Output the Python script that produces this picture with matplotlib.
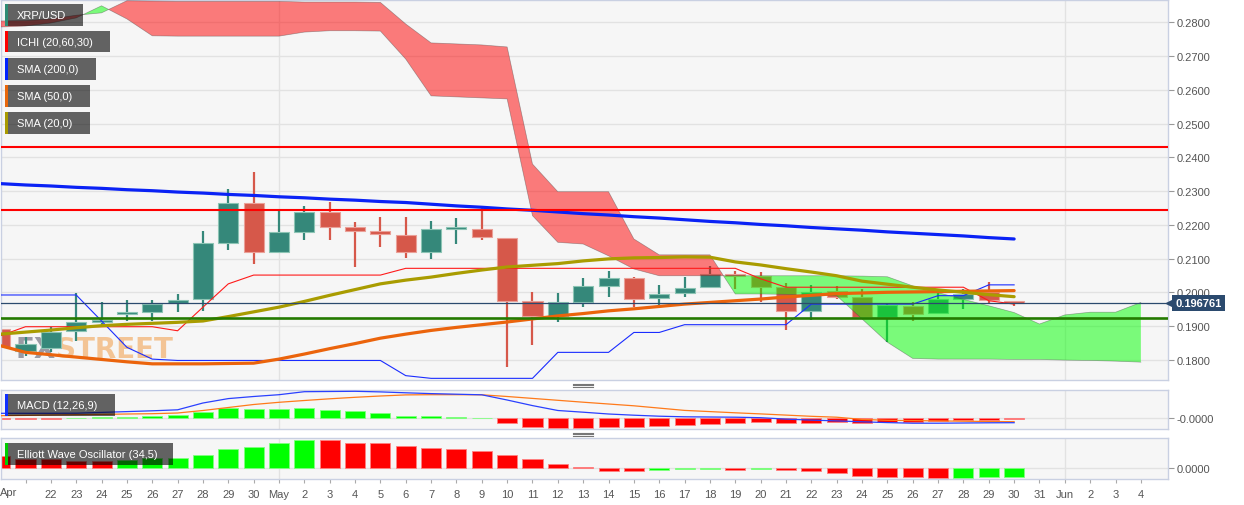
import numpy as np
import matplotlib
matplotlib.use("Agg")
import matplotlib.pyplot as plt
from matplotlib.patches import Rectangle
from matplotlib.lines import Line2D
from matplotlib import font_manager
from matplotlib.transforms import blended_transform_factory

plt.rcParams['font.family'] = ['Liberation Sans', 'DejaVu Sans']

# ---- data -------------------------------------------------------------
# day index: -1 = Apr 20, 0 = Apr 21, 10 = May 1, 39 = May 30, 44 = Jun 4
days = np.arange(-1, 40)
cloud_days = np.arange(-1, 45)

x_labels = ['22', '23', '24', '25', '26', '27', '28', '29', '30', 'May',
            '2', '3', '4', '5', '6', '7', '8', '9', '10', '11', '12', '13',
            '14', '15', '16', '17', '18', '19', '20', '21', '22', '23', '24',
            '25', '26', '27', '28', '29', '30', '31', 'Jun', '2', '3', '4']

opens = np.array([0.1891, 0.1827, 0.1835, 0.1884, 0.1912, 0.1936, 0.1943, 0.1967,
                  0.1980, 0.2146, 0.2265, 0.2119, 0.2180, 0.2237, 0.2194, 0.2181,
                  0.2170, 0.2120, 0.2187, 0.2188, 0.2161, 0.1973, 0.1931, 0.1972,
                  0.2020, 0.2041, 0.1982, 0.1997, 0.2015, 0.2052, 0.2049, 0.2015,
                  0.1945, 0.2003, 0.1987, 0.1928, 0.1960, 0.1938, 0.1980, 0.2000,
                  0.1975])
highs = np.array([0.1946, 0.1867, 0.1896, 0.1997, 0.1970, 0.1977, 0.1977, 0.1995,
                  0.2183, 0.2306, 0.2356, 0.2242, 0.2257, 0.2268, 0.2207, 0.2224,
                  0.2224, 0.2212, 0.2219, 0.2249, 0.2161, 0.2000, 0.1998, 0.2042,
                  0.2062, 0.2046, 0.2022, 0.2046, 0.2077, 0.2062, 0.2059, 0.2027,
                  0.2022, 0.2020, 0.2010, 0.1967, 0.1970, 0.1997, 0.2010, 0.2030,
                  0.1975])
lows = np.array([0.1783, 0.1812, 0.1824, 0.1857, 0.1896, 0.1916, 0.1916, 0.1943,
                 0.1946, 0.2126, 0.2084, 0.2119, 0.2156, 0.2156, 0.2074, 0.2133,
                 0.2102, 0.2099, 0.2143, 0.2155, 0.1780, 0.1845, 0.1913, 0.1957,
                 0.1985, 0.1957, 0.1962, 0.1987, 0.2013, 0.2010, 0.1972, 0.1888,
                 0.1919, 0.1980, 0.1928, 0.1852, 0.1916, 0.1938, 0.1951, 0.1967,
                 0.1960])
closes = np.array([0.1837, 0.1847, 0.1883, 0.1911, 0.1914, 0.1943, 0.1965, 0.1977,
                   0.2146, 0.2265, 0.2119, 0.2178, 0.2239, 0.2194, 0.2181, 0.2173,
                   0.2120, 0.2188, 0.2189, 0.2165, 0.1975, 0.1931, 0.1970, 0.2018,
                   0.2041, 0.1980, 0.1995, 0.2012, 0.2054, 0.2048, 0.2017, 0.1944,
                   0.2002, 0.1987, 0.1928, 0.1962, 0.1936, 0.1980, 0.1995, 0.1977,
                   0.196761])
last_price = 0.196761

sma200 = np.array([0.2322, 0.2318, 0.2315, 0.2311, 0.2308, 0.2304, 0.2301, 0.2297,
                   0.2294, 0.2290, 0.2287, 0.2283, 0.2280, 0.2276, 0.2273, 0.2269,
                   0.2266, 0.2261, 0.2256, 0.2252, 0.2247, 0.2243, 0.2238, 0.2233,
                   0.2229, 0.2224, 0.2220, 0.2215, 0.2210, 0.2206, 0.2201, 0.2197,
                   0.2192, 0.2188, 0.2184, 0.2179, 0.2175, 0.2171, 0.2167, 0.2162,
                   0.2158])
sma50 = np.array([0.1842, 0.1822, 0.1815, 0.1808, 0.1801, 0.1794, 0.1788, 0.1788,
                  0.1788, 0.1789, 0.1790, 0.1802, 0.1817, 0.1833, 0.1848, 0.1864,
                  0.1876, 0.1887, 0.1896, 0.1904, 0.1912, 0.1921, 0.1930, 0.1937,
                  0.1945, 0.1951, 0.1958, 0.1965, 0.1970, 0.1975, 0.1980, 0.1986,
                  0.1991, 0.1996, 0.1998, 0.2000, 0.2001, 0.2002, 0.2003, 0.2004,
                  0.2005])
sma20 = np.array([0.1876, 0.1882, 0.1888, 0.1895, 0.1901, 0.1905, 0.1908, 0.1911,
                  0.1915, 0.1928, 0.1942, 0.1956, 0.1973, 0.1991, 0.2008, 0.2025,
                  0.2036, 0.2045, 0.2056, 0.2066, 0.2075, 0.2080, 0.2085, 0.2093,
                  0.2099, 0.2102, 0.2103, 0.2105, 0.2104, 0.2090, 0.2081, 0.2070,
                  0.2060, 0.2049, 0.2033, 0.2024, 0.2015, 0.2007, 0.2000, 0.1993,
                  0.1987])

# ichimoku
tenkan = np.array([0.1871, 0.1898, 0.1898, 0.1898, 0.1898, 0.1898, 0.1898, 0.1886,
                   0.1956, 0.2025, 0.2051, 0.2051, 0.2051, 0.2051, 0.2051, 0.2051,
                   0.2071, 0.2071, 0.2071, 0.2071, 0.2071, 0.2071, 0.2071, 0.2071,
                   0.2071, 0.2071, 0.2071, 0.2071, 0.2071, 0.2071, 0.2040, 0.2015,
                   0.2015, 0.2015, 0.2015, 0.2015, 0.2015, 0.2015, 0.2015, 0.1975,
                   0.1965])
kijun = np.array([0.1992, 0.1992, 0.1992, 0.1992, 0.1915, 0.1837, 0.1802, 0.1798,
                  0.1798, 0.1798, 0.1798, 0.1798, 0.1798, 0.1798, 0.1798, 0.1798,
                  0.1753, 0.1745, 0.1745, 0.1745, 0.1745, 0.1745, 0.1822, 0.1822,
                  0.1822, 0.1881, 0.1881, 0.1904, 0.1904, 0.1904, 0.1904, 0.1904,
                  0.1965, 0.1965, 0.1965, 0.1965, 0.1965, 0.1990, 0.1990, 0.2022,
                  0.2022])
span_a = np.array([0.2786, 0.2789, 0.2798, 0.2813, 0.2849, 0.2810, 0.2760, 0.2759,
                   0.2759, 0.2759, 0.2759, 0.2759, 0.2771, 0.2775, 0.2775, 0.2774,
                   0.2691, 0.2582, 0.2579, 0.2576, 0.2573, 0.2227, 0.2148, 0.2143,
                   0.2108, 0.2069, 0.2049, 0.2049, 0.2049, 0.2049, 0.2049, 0.2049,
                   0.2049, 0.2049, 0.2048, 0.2046, 0.2019, 0.1999, 0.1979, 0.1960,
                   0.1940, 0.1906, 0.1933, 0.1941, 0.1941, 0.1970])
span_b = np.array([0.2804, 0.2805, 0.2810, 0.2821, 0.2828, 0.2864, 0.2863, 0.2862,
                   0.2862, 0.2862, 0.2862, 0.2862, 0.2860, 0.2860, 0.2860, 0.2859,
                   0.2795, 0.2739, 0.2736, 0.2733, 0.2727, 0.2380, 0.2298, 0.2298,
                   0.2298, 0.2158, 0.2111, 0.2111, 0.2111, 0.1995, 0.1995, 0.1994,
                   0.1992, 0.1990, 0.1921, 0.1852, 0.1804, 0.1802, 0.1802, 0.1802,
                   0.1801, 0.1801, 0.1799, 0.1798, 0.1796, 0.1793])

resistance = [0.2431, 0.2245]
support = 0.1925

# MACD (12,26,9), values in 1e-4
macd_line = np.array([5.0, 5.0, 5.0, 5.1, 5.9, 6.7, 7.5, 8.5, 15.3, 19.7, 21.8, 23.6,
                      26.6, 26.8, 27.0, 26.4, 25.5, 24.7, 24.1, 23.5, 18.3, 12.7, 7.8,
                      6.1, 4.3, 3.1, 2.1, 1.5, 1.3, 1.1, 0.6, -0.8, -1.8, -2.6, -3.5,
                      -4.3, -4.9, -4.9, -4.7, -4.5, -4.4])
macd_signal = np.array([2.6, 2.9, 3.3, 3.6, 3.9, 4.3, 4.6, 5.3, 7.8, 10.8, 13.8, 16.0,
                        17.8, 19.5, 21.0, 22.3, 23.4, 23.6, 23.6, 23.5, 21.8, 19.9,
                        18.0, 16.1, 14.3, 12.5, 10.2, 7.9, 6.7, 5.5, 4.4, 3.2, 2.0,
                        1.1, -1.1, -2.0, -2.3, -2.6, -2.9, -3.2, -3.4])
macd_hist = np.array([-0.3, -1.0, -0.7, 0.5, 1.7, 1.7, 2.7, 3.3, 6.7, 10.3, 9.3, 9.3,
                      10.0, 8.7, 7.3, 5.3, 2.7, 2.0, 1.3, 0.3, -4.3, -8.3, -9.7, -9.3,
                      -8.3, -8.3, -7.7, -6.7, -5.3, -4.3, -3.7, -5.0, -4.3, -3.7,
                      -4.3, -3.7, -3.3, -2.7, -1.7, -1.3, -1.0])

# Elliott Wave Oscillator (34,5), values in 1e-4
ewo = np.array([12.7, 9.3, 9.3, 7.7, 7.7, 8.3, 10.0, 10.7, 13.3, 19.0, 21.7, 25.0,
                28.3, 28.0, 25.0, 25.0, 22.7, 20.3, 19.0, 17.3, 13.3, 9.3, 4.7, 1.3,
                -2.3, -2.7, -1.7, -1.0, -0.7, -1.7, -0.7, -2.0, -2.3, -4.3, -7.3,
                -9.0, -9.0, -9.3, -9.3, -8.7, -8.3])
ewo_rising = [0, 0, 0, 0, 0, 1, 1, 1, 1, 1, 1, 1, 1, 0, 0, 0, 0, 0, 0, 0, 0, 0, 0, 0,
              0, 0, 1, 1, 1, 0, 1, 0, 0, 0, 0, 0, 0, 0, 1, 1, 1]

# ---- style ------------------------------------------------------------
BG = '#f6f6f6'
SPINE = '#c9d0e2'
GRID = '#e2e2e2'
TXT = '#555555'
UP = '#35887a'
DOWN = '#d6584a'

W, H = 1244, 506
fig = plt.figure(figsize=(W / 100, H / 100), dpi=100)


def fx(px):
    return px / W


def fy(py):
    return 1 - py / H


ax = fig.add_axes([fx(1), fy(381), fx(1167), 380 / H])
ax_m = fig.add_axes([fx(1), fy(430), fx(1167), 39.3 / H])
ax_e = fig.add_axes([fx(1), fy(480), fx(1167), 40.7 / H])

xlim = (-0.9665, 45.07)
for a in (ax, ax_m, ax_e):
    a.set_facecolor(BG)
    a.set_xlim(*xlim)
    for s in a.spines.values():
        s.set_color(SPINE)
        s.set_linewidth(1)
    a.yaxis.tick_right()
    a.tick_params(axis='y', length=4, color='#999999', labelcolor=TXT,
                  labelsize=8, pad=2)
    a.tick_params(axis='x', length=0, labelbottom=False)
    a.grid(axis='y', color=GRID, lw=1, zorder=0)
    a.set_axisbelow(True)
    for d in (10, 41):
        a.axvline(d, color=GRID, lw=1, zorder=0)

# ---- main price panel ---------------------------------------------------
ax.set_ylim(0.17401, 0.28661)
ax.set_yticks(np.arange(0.18, 0.2801, 0.01))
ax.set_yticklabels(['%.4f' % v for v in np.arange(0.18, 0.2801, 0.01)])

# watermark
if any('Narrow' in f.name for f in font_manager.fontManager.ttflist):
    wm_font, wm_size = 'Liberation Sans Narrow', 20
else:
    wm_font, wm_size = 'Liberation Sans', 17
t1 = ax.text(fx(15) / fx(1167), (381 - 358) / 380, 'FX', transform=ax.transAxes,
             fontsize=wm_size, fontweight='bold', family=wm_font,
             color='#8a8a96', alpha=0.85, va='baseline', ha='left', zorder=1)
ax.annotate('STREET', xy=(1, 0), xycoords=t1, fontsize=wm_size, fontweight='bold',
            family=wm_font, color='#f2b06c', alpha=0.7, va='bottom', ha='left',
            zorder=1)

# candles
up = closes >= opens
ccol = np.where(up, UP, DOWN)
ecol = np.where(up, '#8cc4b4', '#eaa098')
ax.vlines(days, lows, highs, colors=ccol, lw=1.6, zorder=2)
body_lo = np.minimum(opens, closes)
body_h = np.maximum(np.abs(closes - opens), 0.0006)
ax.bar(days, body_h, bottom=body_lo, width=0.79, color=ccol, edgecolor=ecol,
       lw=0.8, zorder=2.1)

# ichimoku cloud
ax.fill_between(cloud_days, span_a, span_b, where=span_a >= span_b,
                interpolate=True, color='#00ff00', alpha=0.5, lw=0, zorder=3)
ax.fill_between(cloud_days, span_a, span_b, where=span_a < span_b,
                interpolate=True, color='#ff0000', alpha=0.5, lw=0, zorder=3)
ax.plot(cloud_days, span_a, color='#444444', lw=0.5, alpha=0.45, zorder=3.1)
ax.plot(cloud_days, span_b, color='#444444', lw=0.5, alpha=0.45, zorder=3.1)
ax.plot(days, tenkan, color='#ff1a1a', lw=0.8, zorder=4)
ax.plot(days, kijun, color='#1a2cff', lw=0.8, zorder=4)

# moving averages
ax.plot(days, sma200, color='#0a22f5', lw=2.3, zorder=5, solid_capstyle='round')
ax.plot(days, sma50, color='#eb640c', lw=2.3, zorder=5, solid_capstyle='round')
ax.plot(days, sma20, color='#a99c00', lw=2.3, zorder=5, solid_capstyle='round')

# horizontal levels
for r in resistance:
    ax.axhline(r, color='#ff0000', lw=1.5, zorder=6)
ax.axhline(support, color='#247a00', lw=1.9, zorder=6)
ax.axhline(last_price, color='#2b4a6e', lw=0.9, zorder=6)

tr = blended_transform_factory(ax.transAxes, ax.transData)
ax.plot([1.0012], [last_price], marker='<', ms=5, color='#2b4a6e',
        transform=tr, clip_on=False, zorder=7)
ax.text(1.0062, last_price, '%.6f' % last_price, transform=tr, fontsize=8,
        fontweight='bold', color='white', va='center', ha='left', zorder=8,
        bbox=dict(boxstyle='square,pad=0.28', fc='#2b4a6e', ec='none'))

# ---- MACD panel ---------------------------------------------------------
ax_m.set_ylim(-10.7, 28.6)
ax_m.set_yticks([0])
ax_m.set_yticklabels(['-0.0000'])
hcol = np.where(macd_hist >= 0, '#00ff00', '#ff0000')
hedge = np.where(macd_hist >= 0, '#80ff80', '#ff8080')
ax_m.bar(days, macd_hist, width=0.79, color=hcol, edgecolor=hedge, lw=0.6, zorder=2)
ax_m.plot(days, macd_signal, color='#ff7a1a', lw=0.9, zorder=3)
ax_m.plot(days, macd_line, color='#2a40ff', lw=0.9, zorder=3)

# ---- EWO panel ----------------------------------------------------------
ax_e.set_ylim(-10.7, 30)
ax_e.set_yticks([0])
ax_e.set_yticklabels(['0.0000'])
ecolors = ['#00ff00' if r else '#ff0000' for r in ewo_rising]
eedges = ['#80ff80' if r else '#ff8080' for r in ewo_rising]
ax_e.bar(days, ewo, width=0.79, color=ecolors, edgecolor=eedges, lw=0.6, zorder=2)

ax_e.set_xticks(np.arange(0, 45))
ax_e.set_xticklabels([''] + x_labels)
ax_e.tick_params(axis='x', length=3, color='#aaaaaa', labelbottom=True,
                 labelcolor=TXT, labelsize=8, pad=4)
ax_e.text(-0.67, -0.31, 'Apr', transform=blended_transform_factory(ax_e.transData, ax_e.transAxes),
          fontsize=8, color=TXT, ha='center', va='center')

# ---- legend boxes -------------------------------------------------------
def label_box(x0, y0, x1, y1, text, strip):
    fig.patches.append(Rectangle((fx(x0), fy(y1)), fx(x1 - x0), (y1 - y0) / H,
                                 transform=fig.transFigure, fc='black', alpha=0.6,
                                 ec='none', zorder=10))
    fig.patches.append(Rectangle((fx(x0), fy(y1)), fx(2.5), (y1 - y0) / H,
                                 transform=fig.transFigure, fc=strip, ec='none',
                                 zorder=11))
    fig.text(fx(x0 + 11.7), fy((y0 + y1) / 2), text, color='white', fontsize=8,
             va='center', ha='left', zorder=12)


label_box(5, 5, 83.3, 26.7, 'XRP/USD', '#2e8b74')
label_box(5, 32, 110, 53.3, 'ICHI (20,60,30)', '#ff0000')
label_box(5, 59, 96, 80.7, 'SMA (200,0)', '#0022ff')
label_box(5, 86, 90, 108, 'SMA (50,0)', '#e8670c')
label_box(5, 113, 90, 135, 'SMA (20,0)', '#a89a00')
label_box(5, 395, 115, 416.7, 'MACD (12,26,9)', '#1030ff')
label_box(5, 444, 172.7, 466, 'Elliott Wave Oscillator (34,5)', '#00cc00')

# panel resize handles
for yy in (384.5, 433.5):
    for k in range(3):
        fig.add_artist(Line2D([fx(573), fx(593)], [fy(yy + 1.6 * k)] * 2,
                              color='#777777', lw=0.8))

fig.savefig('out.png', dpi=100, facecolor='white')
